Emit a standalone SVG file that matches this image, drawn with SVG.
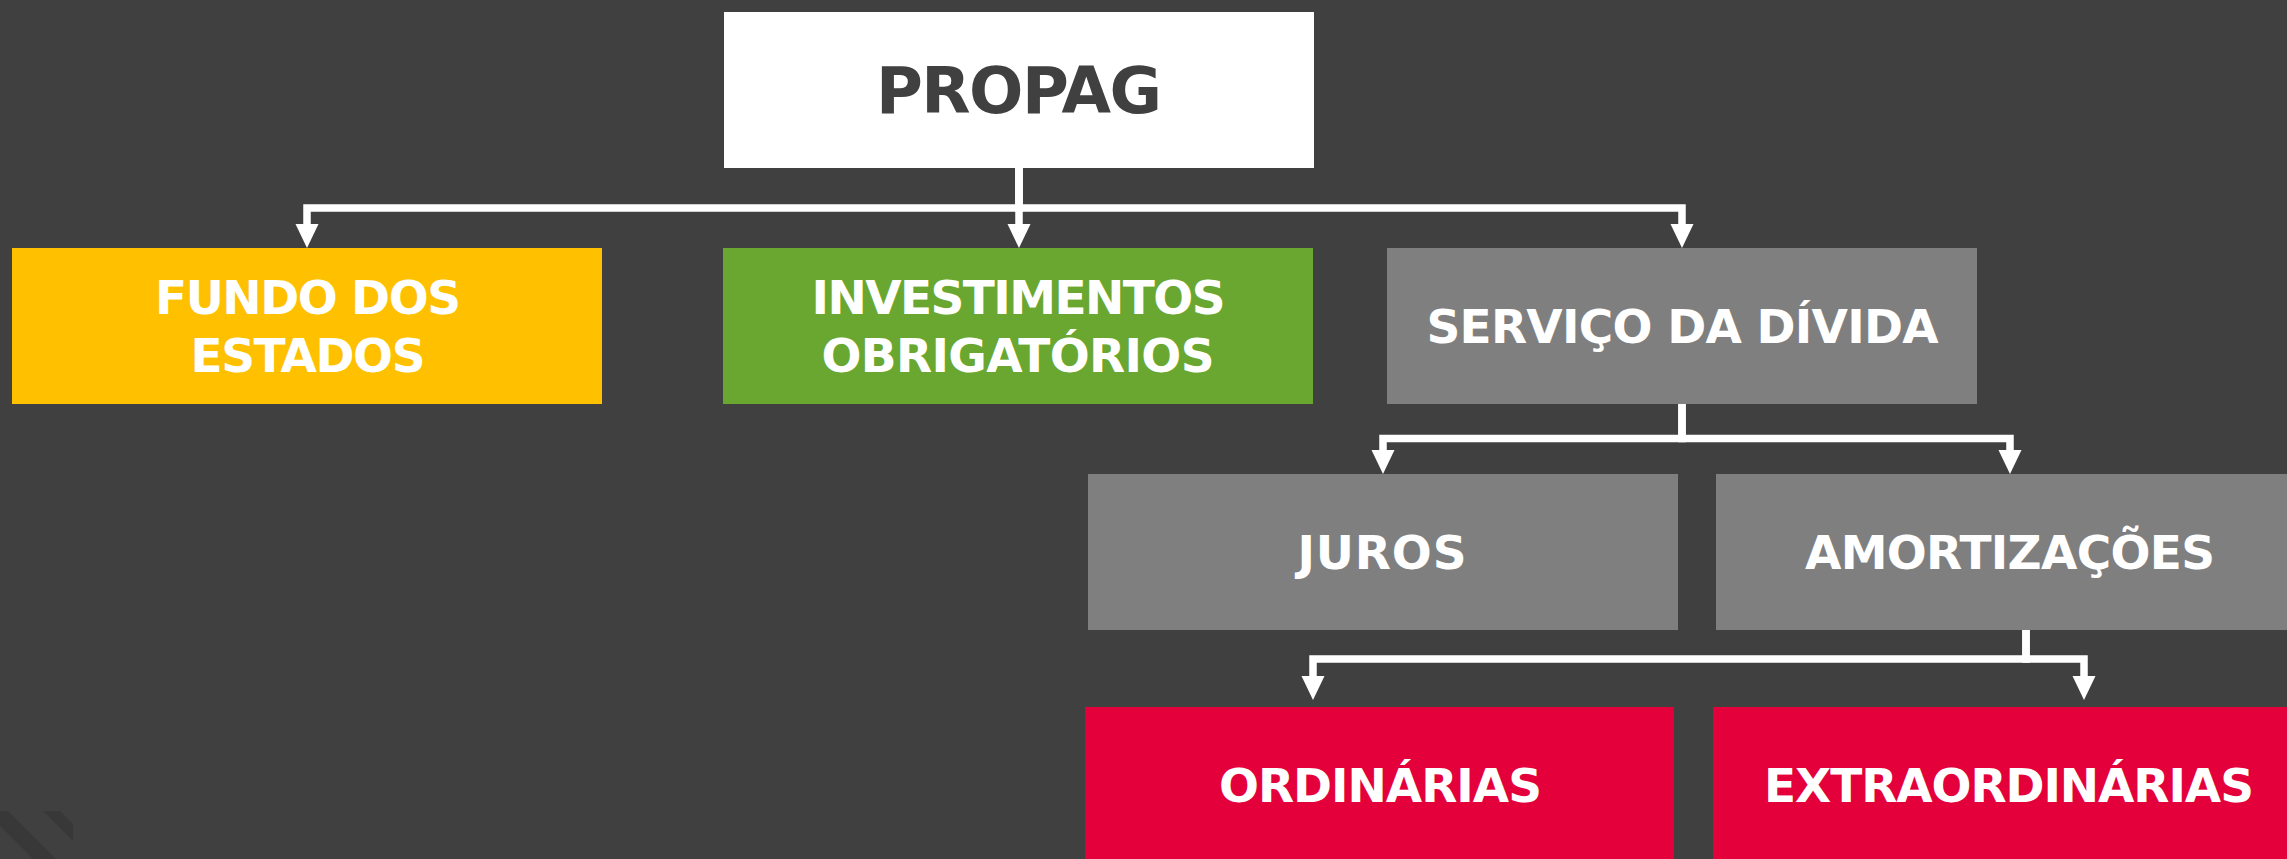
<svg xmlns="http://www.w3.org/2000/svg" width="2287" height="859" viewBox="0 0 2287 859">
<style>
.lbl{font-family:"DejaVu Sans",Verdana,sans-serif;font-weight:bold;font-size:47px;fill:#ffffff;text-anchor:middle}
.conn{fill:none;stroke:#ffffff;stroke-width:7.5;stroke-linejoin:miter;stroke-linecap:butt}
</style>
<defs>
<marker id="arr" markerUnits="userSpaceOnUse" markerWidth="24" markerHeight="24" viewBox="0 0 24 24" refX="0" refY="12" orient="auto">
<path d="M0,0.5 L24,12 L0,23.5 z" fill="#ffffff"/>
</marker>
</defs>
<rect width="2287" height="859" fill="#404040"/>
<g id="decor" fill="#383838">
<polygon points="0,811 8,811 56,859 33,859 0,826"/>
<polygon points="43,811 60,811 73,824 73,841"/>
</g>
<g id="connectors">
<path class="conn" d="M1019,168 V208 H307 V224" marker-end="url(#arr)"/>
<path class="conn" d="M1019,168 V224" marker-end="url(#arr)"/>
<path class="conn" d="M1019,168 V208 H1682 V224" marker-end="url(#arr)"/>
<path class="conn" d="M1682,404 V438.5 H1383 V450" marker-end="url(#arr)"/>
<path class="conn" d="M1682,404 V438.5 H2010 V450" marker-end="url(#arr)"/>
<path class="conn" d="M2026,630 V659 H1313 V676" marker-end="url(#arr)"/>
<path class="conn" d="M2026,630 V659 H2084 V676" marker-end="url(#arr)"/>
</g>
<g id="propag">
<rect x="724" y="12" width="590" height="156" fill="#ffffff"/>
<text x="1019" y="113" style="font-family:'DejaVu Sans',Verdana,sans-serif;font-weight:bold;font-size:64px;fill:#404040;text-anchor:middle" textLength="286" lengthAdjust="spacing">PROPAG</text>
</g>
<g id="fundo">
<rect x="12" y="248" width="590" height="156" fill="#FFC000"/>
<text class="lbl" x="308" y="313.5" textLength="306" lengthAdjust="spacing">FUNDO DOS</text>
<text class="lbl" x="308" y="371.5" textLength="235" lengthAdjust="spacing">ESTADOS</text>
</g>
<g id="investimentos">
<rect x="723" y="248" width="590" height="156" fill="#69A731"/>
<text class="lbl" x="1018.5" y="313.5" textLength="414" lengthAdjust="spacing">INVESTIMENTOS</text>
<text class="lbl" x="1018" y="371.5" textLength="393" lengthAdjust="spacing">OBRIGATÓRIOS</text>
</g>
<g id="servico">
<rect x="1387" y="248" width="590" height="156" fill="#7F7F7F"/>
<text class="lbl" x="1682.5" y="343" textLength="512" lengthAdjust="spacing">SERVIÇO DA DÍVIDA</text>
</g>
<g id="juros">
<rect x="1088" y="474" width="590" height="156" fill="#7F7F7F"/>
<text class="lbl" x="1382" y="568.5" textLength="169" lengthAdjust="spacing">JUROS</text>
</g>
<g id="amortizacoes">
<rect x="1716" y="474" width="590" height="156" fill="#7F7F7F"/>
<text class="lbl" x="2010" y="568.5" textLength="410" lengthAdjust="spacing">AMORTIZAÇÕES</text>
</g>
<g id="ordinarias">
<rect x="1085" y="707" width="589" height="156" fill="#E4003B"/>
<text class="lbl" x="1380.5" y="802" textLength="323" lengthAdjust="spacing">ORDINÁRIAS</text>
</g>
<g id="extraordinarias">
<rect x="1713" y="707" width="590" height="156" fill="#E4003B"/>
<text class="lbl" x="2009" y="802" textLength="490" lengthAdjust="spacing">EXTRAORDINÁRIAS</text>
</g>
</svg>
